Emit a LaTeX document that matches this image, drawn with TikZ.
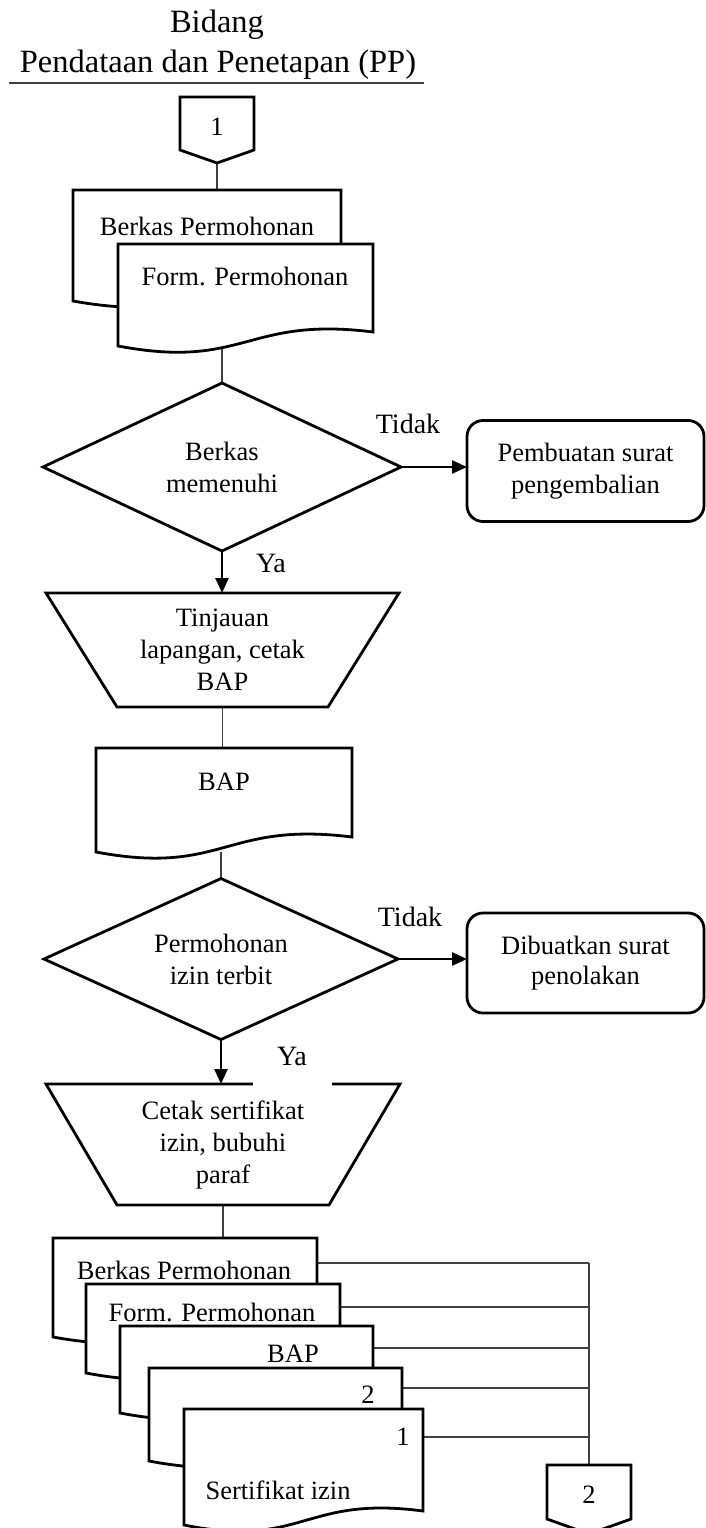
\documentclass[tikz,border=0pt]{standalone}
\usepackage{fontspec}
\setmainfont{Liberation Serif}
\usetikzlibrary{arrows.meta,calc,shapes.geometric}
\pgfdeclarelayer{lines}
\pgfsetlayers{lines,main}
\tikzset{
  every node/.style={inner sep=0pt, outer sep=0pt},
  shp/.style={draw=black, line width=2.8pt, fill=white, line join=miter},
  lnk/.style={draw=black!75, line width=1.4pt},
  arr/.style={draw=black, line width=2.6pt, -{Triangle[length=15pt,width=13pt]}},
  body/.style={font=\fontsize{26.5pt}{32pt}\selectfont},
  lbl/.style={font=\fontsize{28pt}{32pt}\selectfont, anchor=base},
  hdr/.style={font=\fontsize{32.5pt}{39pt}\selectfont},
  dec/.style={shp, diamond, align=center, body},
  rbox/.style={shp, rectangle, rounded corners=16pt, minimum width=237pt, align=center, body},
  hold/.style={rectangle, draw=none, fill=none}
}
% name, x1, y1, x2, left height, right height
\newcommand{\docshape}[6]{%
  \draw[shp] (#2,#3) -- (#4,#3) -- (#4,{#3+#6})
    .. controls ({(#2+#4)/2},{#3+#6-16}) and ({(#2+#4)/2},{#3+#5+24}) .. (#2,{#3+#5}) -- cycle;
  \node[hold, minimum width={#4-#2}, minimum height=#5, anchor=north west] (#1) at (#2,#3) {};
}
% name, x1, y1, top width, height, inset, text
\newcommand{\trapshape}[7]{%
  \draw[shp] (#2,#3) -- ({#2+#4},#3) -- ({#2+#4-#6},{#3+#5}) -- ({#2+#6},{#3+#5}) -- cycle;
  \node[hold, body, align=center, minimum width=#4, minimum height=#5, anchor=north west] (#1) at (#2,#3) {#7};
}
% name, cx, top, width, side, tip
\newcommand{\offpage}[6]{%
  \draw[shp] ({#2-#4/2},#3) -- ({#2+#4/2},#3) -- ({#2+#4/2},{#3+#5}) -- (#2,{#3+#5+#6}) -- ({#2-#4/2},{#3+#5}) -- cycle;
  \node[hold, minimum width=#4, minimum height={#5+#6}, anchor=north] (#1) at (#2,#3) {};
}
\begin{document}
\begin{tikzpicture}[x=1pt,y=-1pt]
\useasboundingbox (0,0) rectangle (706,1528);

% header
\node[hdr, anchor=base] (hd1) at (217,33) {Bidang};
\node[hdr, anchor=base] (hd2) at (218,72) {Pendataan dan Penetapan (PP)};
\coordinate (hl) at (9,83);
\coordinate (hr) at (424,83);
\draw[lnk, line width=1.5pt] (hl) -- (hr);

% connector 1
\offpage{c1}{217}{97}{74}{53}{13}
\node[body, anchor=base] (c1t) at (217,135) {1};

% documents
\docshape{berkas}{73}{190}{341}{111}{97}
\node[body, anchor=base] (berkast) at (207,235) {Berkas Permohonan};
\docshape{form}{118}{244}{373}{102}{88}
\node[body, anchor=base] (formt) at (245,285) {Form. Permohonan};

% decision 1
\node[dec, minimum width=358pt, minimum height=168pt, aspect=2.13] (d1) at (222,467) {Berkas\\memenuhi};
\node[rbox, minimum height=101pt] (r1) at (585.5,471) {Pembuatan surat\\pengembalian};
\node[lbl] (no1) at (408,433) {Tidak};
\node[lbl] (yes1) at (271,572) {Ya};

% process 1
\trapshape{t1}{46}{593}{353}{114}{71}{Tinjauan\\lapangan, cetak\\BAP}
\docshape{bap}{96}{748}{352}{104}{89}
\node[body, anchor=base] (bapt) at (224,790) {BAP};

% decision 2
\node[dec, minimum width=354pt, minimum height=161pt, aspect=2.2] (d2) at (221,959) {Permohonan\\izin terbit};
\node[rbox, minimum height=100pt, font=\fontsize{26.5pt}{30pt}\selectfont] (r2) at (585.5,963) {Dibuatkan surat\\penolakan};
\node[lbl] (no2) at (410,926) {Tidak};

% process 2
\trapshape{t2}{46}{1084}{354}{121}{71}{Cetak sertifikat\\izin, bubuhi\\paraf}
\node[lbl, fill=white, minimum width=79pt, text depth=22pt] (yes2) at (292,1065) {Ya};

% stack of documents
\docshape{sA}{53}{1238}{317}{99}{85}
\node[body, anchor=base] (sAt) at (184,1279) {Berkas Permohonan};
\docshape{sB}{86}{1284}{340}{89}{76}
\node[body, anchor=base] (sBt) at (212,1321) {Form. Permohonan};
\docshape{sC}{120}{1326}{373}{87}{75}
\node[body, anchor=base] (sCt) at (293,1362) {BAP};
\docshape{sD}{149}{1368}{402}{93}{80}
\node[body, anchor=base] (sDt) at (368,1403) {2};
\docshape{sE}{184}{1409}{423}{116}{102}
\node[body, anchor=base] (sEt1) at (403,1445) {1};
\node[body, anchor=base] (sEt2) at (278,1499) {Sertifikat izin};

% connector 2
\offpage{c2}{589}{1465}{84}{54}{15}
\node[body, anchor=base] (c2t) at (589,1503) {2};

% arrows
\draw[arr] (d1.east) -- (d1.east -| r1.west);
\draw[arr] (d1.south) -- (d1.south |- t1.north);
\draw[arr] (d2.east) -- (d2.east -| r2.west);
\draw[arr] (d2.south) -- (d2.south |- t2.north);

% plain connectors
\begin{pgfonlayer}{lines}
\draw[lnk] (c1.south) -- (c1.south |- berkas.north);
\draw[lnk] (d1.north) -- (d1.north |- form.south);
\draw[lnk] (t1.south) -- (t1.south |- bap.north);
\draw[lnk] (d2.north) -- (d2.north |- bap.south);
\draw[lnk] (t2.south) -- (t2.south |- sA.north);
\coordinate (pA) at ($(sA.north east)+(0,25)$);
\coordinate (pB) at ($(sB.north east)+(0,23)$);
\coordinate (pC) at ($(sC.north east)+(0,22)$);
\coordinate (pD) at ($(sD.north east)+(0,20)$);
\coordinate (pE) at ($(sE.north east)+(0,28)$);
\draw[lnk] (pA) -- (pA -| c2.north);
\draw[lnk] (pB) -- (pB -| c2.north);
\draw[lnk] (pC) -- (pC -| c2.north);
\draw[lnk] (pD) -- (pD -| c2.north);
\draw[lnk] (pE) -- (pE -| c2.north);
\draw[lnk] (pA -| c2.north) -- (c2.north);
\end{pgfonlayer}
\end{tikzpicture}
\end{document}
